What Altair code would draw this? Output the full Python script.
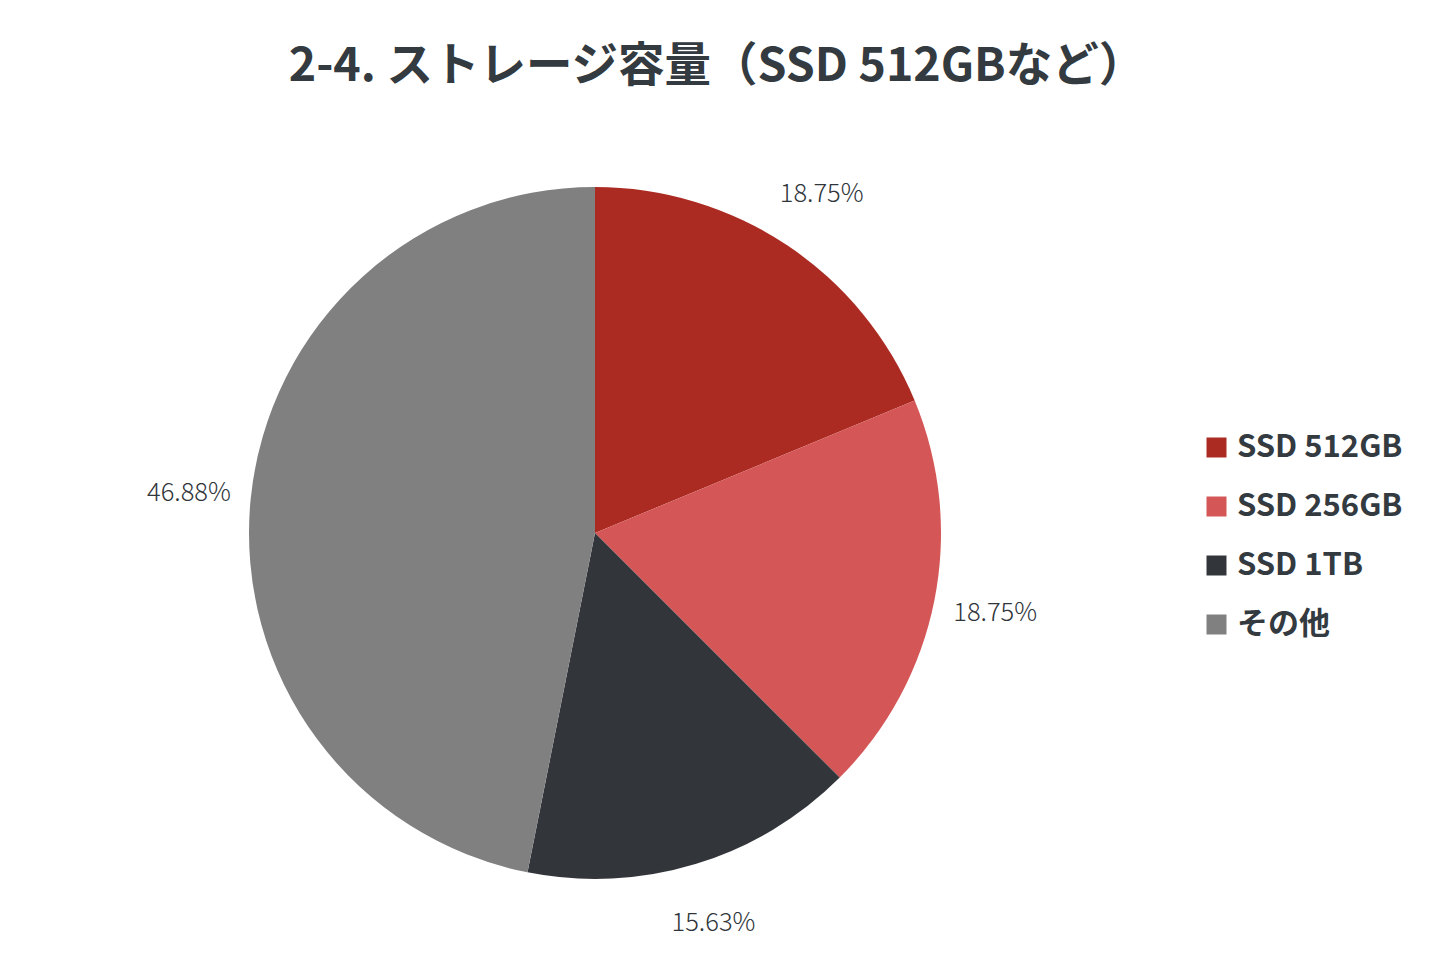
import altair as alt
import pandas as pd

categories = ["SSD 512GB", "SSD 256GB", "SSD 1TB", "その他"]
shares = [18.75, 18.75, 15.63, 46.88]
labels = ["18.75%", "18.75%", "15.63%", "46.88%"]
colors = ["#ab2b23", "#d55656", "#32363b", "#808080"]
title_text = "2-4. ストレージ容量（SSD 512GBなど）"

df = pd.DataFrame({
    "category": categories,
    "share": shares,
    "label": labels,
    "order": list(range(len(categories))),
})

FONT = "Noto Sans CJK JP"
TOP = 110
CX, CY = 587, 525 - TOP
R = 346

base = alt.Chart(df).encode(
    theta=alt.Theta("share:Q", stack=True),
    order=alt.Order("order:Q"),
)

arcs = base.mark_arc(outerRadius=R, strokeWidth=0).encode(
    x=alt.value(CX),
    y=alt.value(CY),
    color=alt.Color(
        "category:N",
        scale=alt.Scale(domain=categories, range=colors),
        sort=categories,
        legend=alt.Legend(
            title=None,
            orient="none",
            legendX=1193,
            legendY=314,
            symbolType="square",
            symbolSize=400,
            symbolStrokeWidth=0,
            labelFont=FONT,
            labelFontSize=31,
            labelFontWeight=600,
            labelColor="#333a40",
            rowPadding=27,
            labelOffset=5,
            labelLimit=400,
        ),
    ),
)

texts = base.mark_text(
    radius=408,
    font=FONT,
    fontSize=25.5,
    fontWeight=300,
    color="#2f353a",
    align="center",
    baseline="middle",
).encode(
    x=alt.value(CX),
    y=alt.value(CY),
    text="label:N",
)

chart = (
    alt.layer(arcs, texts)
    .properties(
        width=1424,
        height=945 - TOP,
        autosize=alt.AutoSizeParams(type="none"),
        padding={"left": 0, "top": TOP, "right": 0, "bottom": 0},
        title=alt.TitleParams(
            text=title_text,
            font=FONT,
            fontSize=46.5,
            fontWeight="bold",
            color="#333a40",
            anchor="middle",
            dx=-3,
            offset=28,
        ),
    )
    .configure(background="white")
    .configure_view(strokeWidth=0, stroke="transparent")
)

chart.save("out.html", embed_options={"renderer": "svg", "actions": False})
